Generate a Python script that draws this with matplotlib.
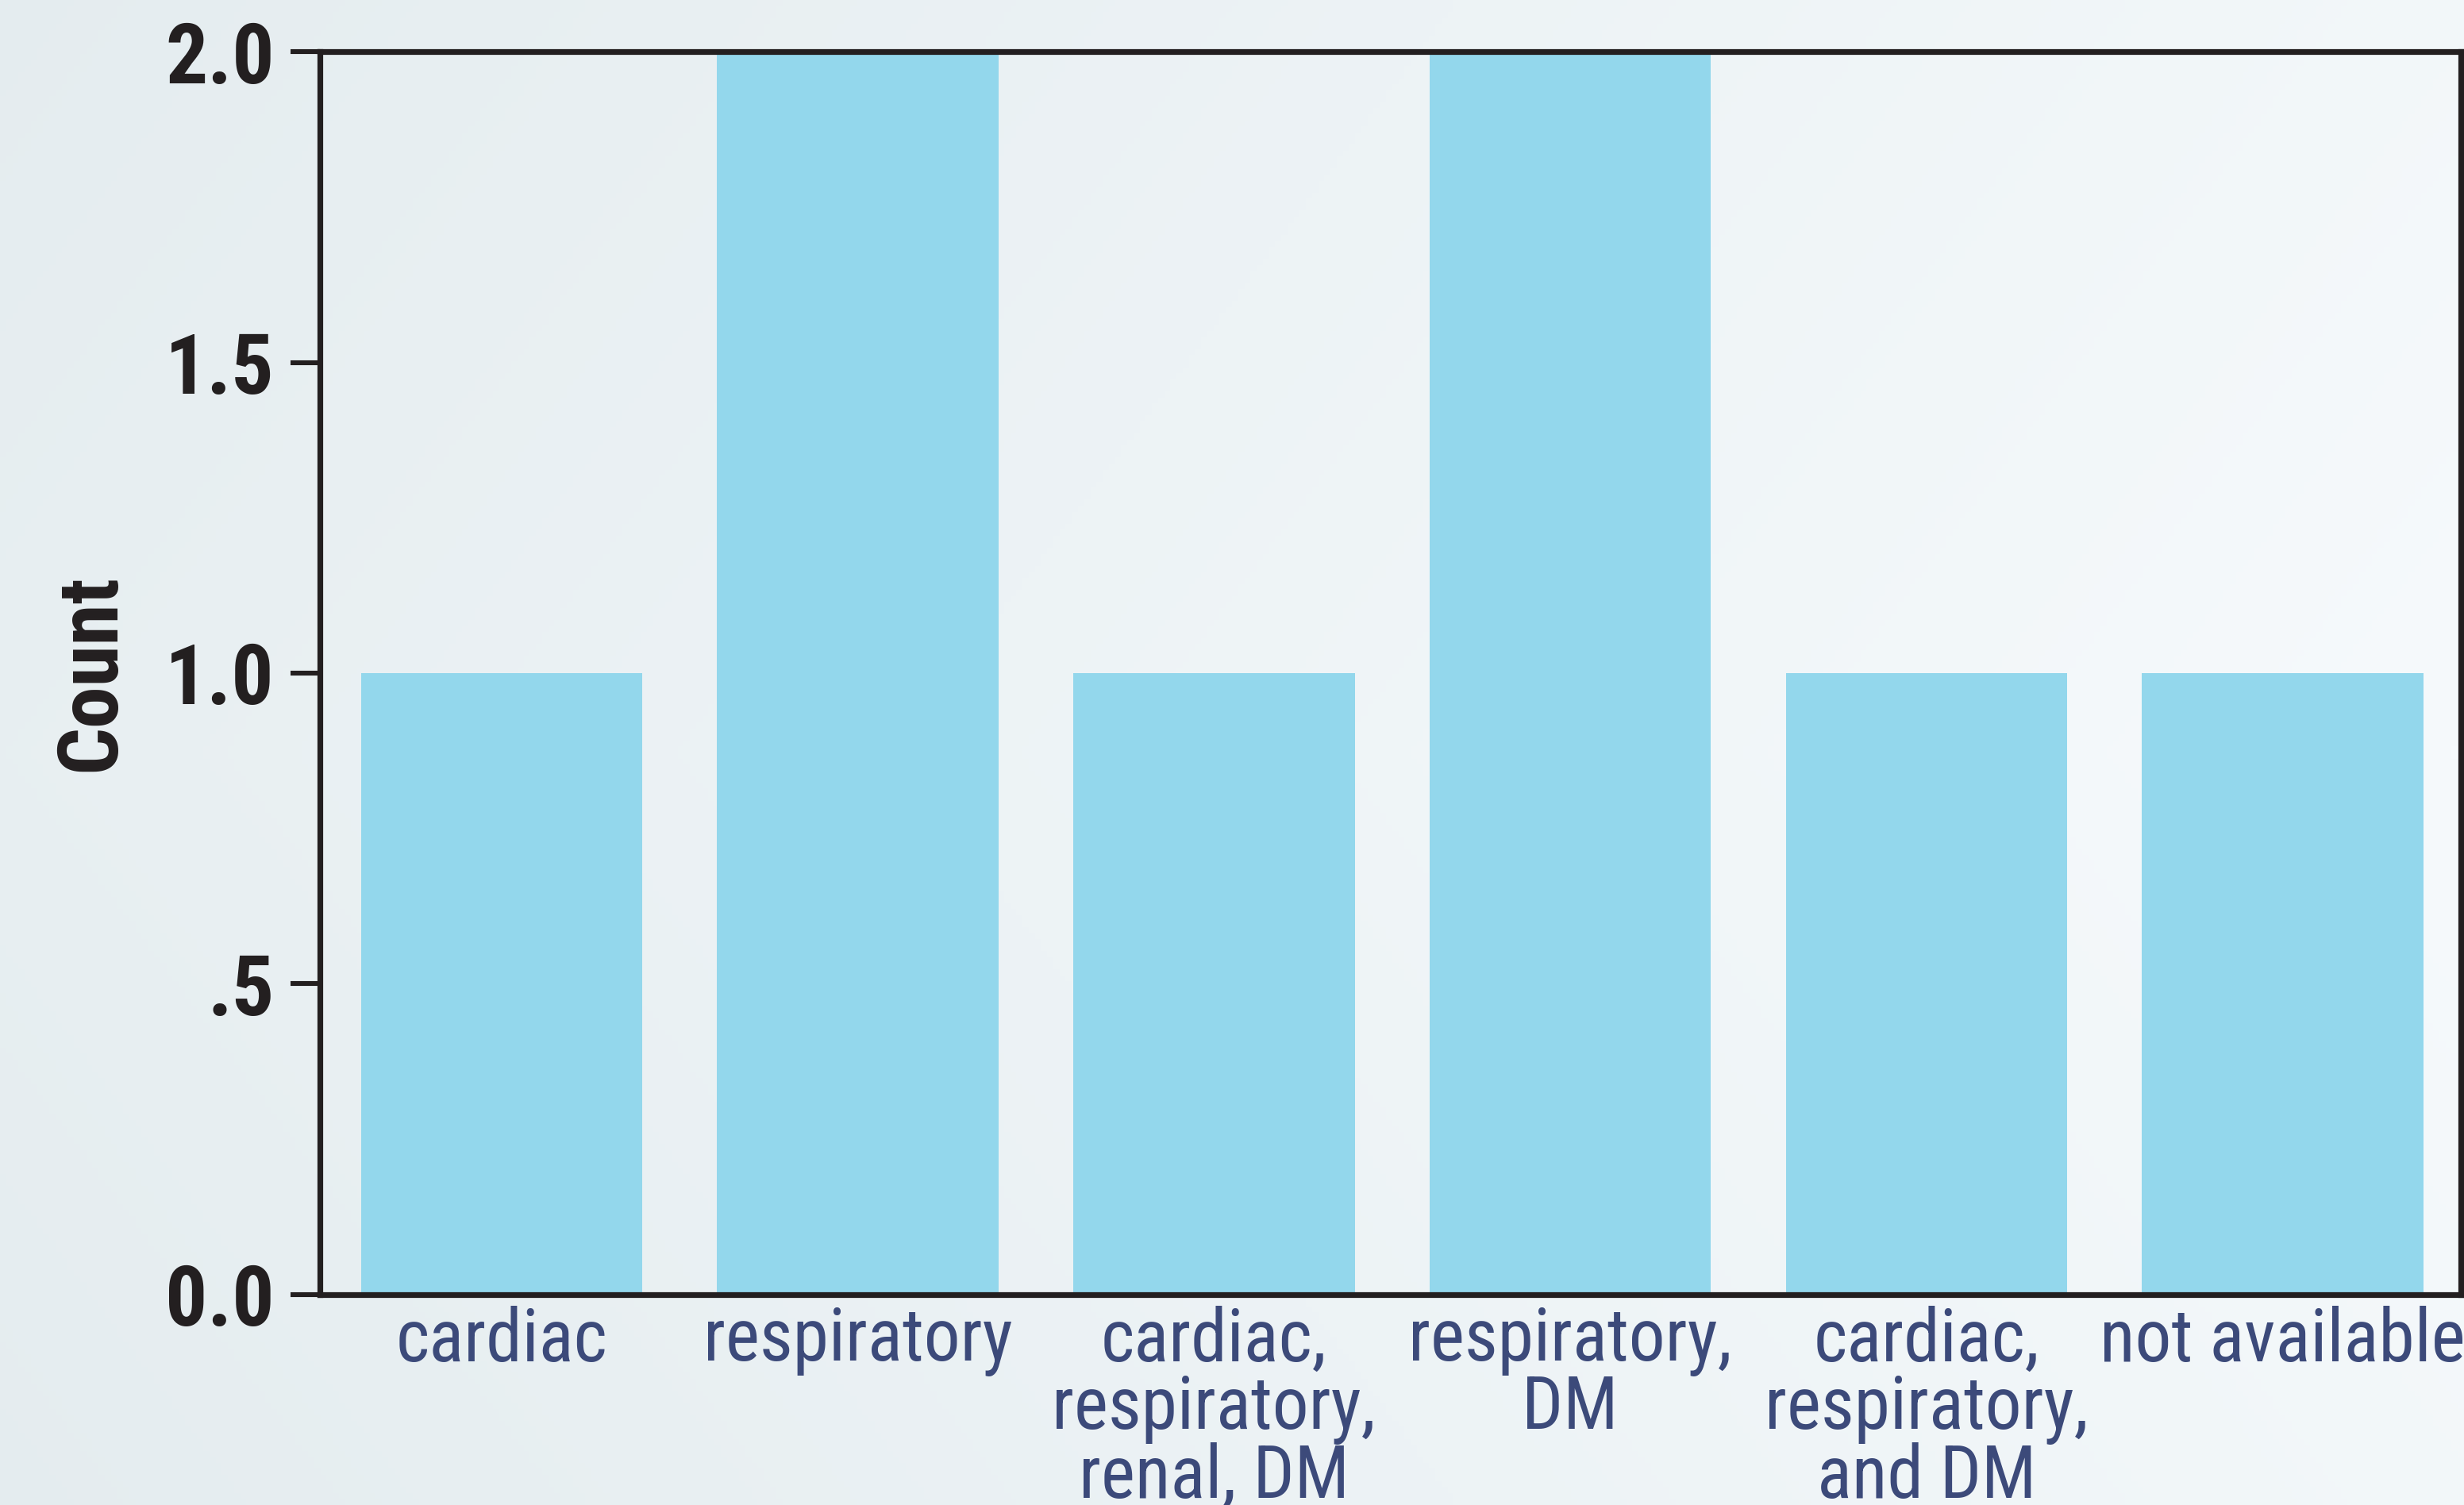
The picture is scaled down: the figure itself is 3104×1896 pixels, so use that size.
import numpy as np
import matplotlib
import matplotlib.pyplot as plt
from matplotlib import font_manager
from matplotlib.colors import LinearSegmentedColormap

matplotlib.use("agg")

categories = ["cardiac", "respiratory", "cardiac,\nrespiratory,\nrenal, DM",
              "respiratory,\nDM", "cardiac,\nrespiratory,\nand DM", "not available"]
counts = [1, 2, 1, 2, 1, 1]
yticks = [0.0, 0.5, 1.0, 1.5, 2.0]
ytick_labels = ["0.0", ".5", "1.0", "1.5", "2.0"]

# pick a condensed face if one is installed
names = {f.name for f in font_manager.fontManager.ttflist}
font = next((n for n in ["Roboto Condensed", "Liberation Sans Narrow",
                         "Open Sans Condensed", "Roboto"] if n in names), "DejaVu Sans")
narrow = font != "Roboto"

fig = plt.figure(figsize=(15.52, 9.48), dpi=200)

# soft textured-looking backdrop
bg = fig.add_axes([0, 0, 1, 1], zorder=-10)
xx, yy = np.meshgrid(np.linspace(0, 1, 400), np.linspace(0, 1, 250))
shade = 0.55 * (1 - xx) + 0.25 * np.abs(yy - 0.5) + 0.2 * (xx > 0.7) * 0
cmap = LinearSegmentedColormap.from_list("bg", ["#f6fafc", "#e4ecef"])
bg.imshow(shade, cmap=cmap, aspect="auto", extent=[0, 1, 0, 1], vmin=0, vmax=0.7)
bg.axis("off")

ax = fig.add_axes([0.1298, 0.1398, 0.8689, 0.8259])
ax.patch.set_alpha(0)

x = np.arange(len(categories))
ax.bar(x, counts, width=0.79, color="#93d7ec", zorder=2)

ax.set_xlim(-0.51, 5.5)
ax.set_ylim(0, 2.0)
ax.set_yticks(yticks)
ax.set_yticklabels(ytick_labels)
ax.set_xticks(x)
ax.set_xticklabels(categories, linespacing=0.95)

for s in ax.spines.values():
    s.set_linewidth(2.6)
    s.set_color("#231f20")

ax.tick_params(axis="y", length=13.5, width=2.2, color="#231f20", pad=7)
ax.tick_params(axis="x", length=0, pad=5)

ysize = 38 if narrow else 33
for lab in ax.get_yticklabels():
    lab.set_fontfamily(font)
    lab.set_fontweight("bold")
    lab.set_fontsize(ysize)
    lab.set_color("#231f20")

xsize = 33 if narrow else 25
for lab in ax.get_xticklabels():
    lab.set_fontfamily(font)
    lab.set_fontsize(xsize)
    lab.set_color("#3c4a7a")

ax.set_ylabel("Count", fontfamily=font, fontweight="bold",
              fontsize=ysize, color="#231f20")
ax.yaxis.label.set(ha="center", va="center")
ax.yaxis.set_label_coords(-0.1064, 0.5)

fig.savefig("out.png", dpi=200)
